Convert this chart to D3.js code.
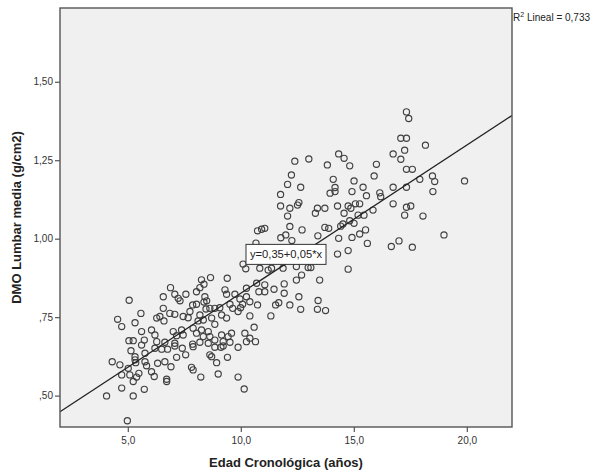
<!DOCTYPE html>
<html><head><meta charset="utf-8">
<script src="https://cdn.jsdelivr.net/npm/d3@7"></script>
<style>
html,body{margin:0;padding:0;background:#fff;}
svg{display:block;font-family:"Liberation Sans",Arial,sans-serif;}
</style></head>
<body>
<svg id="chart" width="592" height="474"></svg>
<script>
// ---- data: [edad (años), DMO lumbar media (g/cm2)] ----
const puntos = [
 [5.06,0.804],[5.58,0.762],[4.55,0.743],[4.73,0.720],[5.32,0.732],[5.61,0.704],[5.05,0.675],[5.24,0.675],
 [5.73,0.677],[5.61,0.661],[5.14,0.643],[5.76,0.635],[5.32,0.624],[5.32,0.614],[4.31,0.608],[4.65,0.598],
 [5.02,0.587],[5.35,0.605],[5.76,0.608],[5.83,0.595],[4.73,0.566],[5.09,0.566],[5.49,0.571],[5.39,0.559],
 [5.24,0.545],[4.73,0.524],[5.73,0.520],[4.06,0.499],[5.24,0.499],[4.98,0.420],
 [10.22,0.904],[9.40,0.874],[8.66,0.876],[8.26,0.869],[8.37,0.855],[8.19,0.844],[6.89,0.844],[10.25,0.842],
 [9.30,0.837],[9.37,0.823],[9.74,0.823],[8.04,0.831],[7.57,0.823],[7.08,0.823],[7.23,0.810],[7.31,0.802],
 [6.57,0.815],[8.41,0.815],[8.49,0.802],[10.25,0.815],[9.96,0.808],[6.57,0.778],[7.87,0.789],[8.04,0.791],
 [8.37,0.798],[7.75,0.768],[8.46,0.776],[8.63,0.778],[8.85,0.778],[9.07,0.780],[9.52,0.791],[9.64,0.778],
 [9.99,0.780],[10.08,0.791],[9.88,0.768],[6.86,0.762],[7.08,0.759],[7.45,0.752],[6.28,0.747],[6.42,0.752],
 [6.60,0.738],[7.67,0.748],[8.19,0.757],[8.11,0.738],[8.34,0.741],[8.71,0.747],[8.85,0.727],[9.15,0.757],
 [9.37,0.747],[6.05,0.709],[6.20,0.693],[7.01,0.704],[7.16,0.691],[7.38,0.709],[7.45,0.693],[7.89,0.715],
 [8.04,0.699],[8.26,0.709],[8.34,0.688],[8.56,0.704],[8.63,0.688],[8.85,0.677],[9.15,0.693],[9.44,0.688],
 [9.59,0.699],[9.22,0.672],[9.52,0.670],[10.18,0.699],[10.25,0.672],[6.28,0.672],[6.64,0.670],[7.08,0.667],
 [7.87,0.664],[8.19,0.670],[8.56,0.667],
 [6.20,0.651],[6.50,0.648],[6.76,0.648],[7.08,0.658],[7.41,0.651],[7.56,0.630],[7.89,0.656],[7.16,0.622],
 [6.32,0.603],[6.64,0.608],[6.91,0.592],[7.82,0.590],[7.89,0.582],[6.05,0.576],[6.17,0.561],[6.72,0.552],
 [6.72,0.545],[8.23,0.559],
 [9.22,0.658],[8.85,0.654],[9.12,0.654],[8.71,0.624],[8.63,0.630],[9.88,0.654],[9.41,0.622],[8.93,0.605],
 [9.00,0.569],[9.88,0.559],[10.15,0.521],
 [10.84,0.906],[11.21,0.900],[11.36,0.906],[11.87,0.906],[12.46,0.911],[12.98,0.908],[13.10,0.908],[12.69,0.884],
 [12.46,0.868],[13.49,0.868],[10.70,0.858],[10.80,0.831],[11.06,0.831],[11.06,0.853],[11.47,0.839],[11.92,0.856],
 [11.92,0.826],[12.57,0.815],[13.42,0.803],[13.75,0.771],[13.39,0.775],[12.65,0.775],[12.17,0.789],[11.68,0.796],
 [11.54,0.789],[11.33,0.754],[10.74,0.789],[10.40,0.799],[10.59,0.718],[10.40,0.754],[10.40,0.683],[10.65,0.672],
 [10.10,0.919],
 [12.39,1.247],[13.01,1.254],[13.83,1.235],[12.24,1.203],[12.07,1.173],[12.65,1.164],[11.76,1.141],[11.76,1.104],
 [12.17,1.097],[12.51,1.107],[12.57,1.115],[12.07,1.072],[13.39,1.097],[13.30,1.081],[13.72,1.097],[10.74,1.025],
 [10.92,1.030],[11.06,1.033],[12.17,1.039],[12.71,1.028],[13.72,1.036],[13.89,1.033],[11.77,1.003],[11.99,1.012],
 [12.26,0.994],[13.41,1.009],[10.67,0.986],
 [17.33,1.404],[17.43,1.383],[17.08,1.320],[17.33,1.320],[18.17,1.298],[17.25,1.282],[16.74,1.270],[17.08,1.253],
 [14.33,1.270],[14.57,1.256],[14.82,1.232],[16.00,1.237],[17.33,1.221],[17.59,1.221],[15.90,1.200],[17.92,1.189],
 [18.48,1.200],[18.58,1.182],[19.90,1.184],[18.50,1.150],[15.01,1.184],[14.09,1.189],[14.17,1.163],[13.95,1.145],
 [14.17,1.150],[14.92,1.150],[15.41,1.164],[15.56,1.137],[16.15,1.146],[16.19,1.134],[16.74,1.164],[17.33,1.164],
 [16.74,1.111],[17.33,1.100],[17.52,1.104],[17.25,1.075],[18.06,1.072],[14.28,1.104],[14.75,1.104],[14.87,1.097],
 [15.07,1.111],[15.26,1.111],[14.57,1.081],[15.19,1.075],[15.45,1.075],[15.85,1.091],[15.01,1.049],[14.82,1.057],
 [14.52,1.047],[14.42,1.040],[14.33,1.001],[14.92,1.004],[15.26,1.015],[15.52,1.028],[15.60,0.985],[14.75,0.962],
 [14.28,0.951],[16.66,0.975],[17.00,0.993],[17.59,0.973],[18.99,1.012],[14.75,0.903]
];

const xDomain = [2, 22];
const yDomain = [0.40, 1.735];
const xTickValues = [5, 10, 15, 20];
const xTickLabels = ["5,0", "10,0", "15,0", "20,0"];
const yTickValues = [0.50, 0.75, 1.00, 1.25, 1.50];
const yTickLabels = [",50", ",75", "1,00", "1,25", "1,50"];

// linear fit (line drawn from intercept/slope)
const intercept = 0.354;
const slope = 0.0472;
const eqLabel = "y=0,35+0,05*x";
const eqAnchor = [12.0, 0.95];
const r2Text = "0,733";

const xTitle = "Edad Cronológica (años)";
const yTitle = "DMO Lumbar media (g/cm2)";

// ---- layout ----
const svg = d3.select("#chart");
const m = {left: 60, top: 8, right: 512, bottom: 427};
const x = d3.scaleLinear().domain(xDomain).range([m.left, m.right]);
const y = d3.scaleLinear().domain(yDomain).range([m.bottom, m.top]);

svg.append("defs").append("clipPath").attr("id","clip")
  .append("rect").attr("x", m.left).attr("y", m.top)
  .attr("width", m.right - m.left).attr("height", m.bottom - m.top);

// plot background
svg.append("rect").attr("x", m.left).attr("y", m.top)
  .attr("width", m.right - m.left).attr("height", m.bottom - m.top)
  .attr("fill", "#f0f0f0");

// axes
const xAxis = d3.axisBottom(x).tickValues(xTickValues)
  .tickFormat((d, i) => xTickLabels[i]).tickSize(5).tickSizeOuter(0);
const gx = svg.append("g").attr("transform", `translate(0,${m.bottom})`).call(xAxis);
gx.select(".domain").remove();
gx.selectAll("line").attr("stroke", "#555").attr("stroke-width", 1.2);
gx.selectAll("text").attr("font-size", 10).attr("fill", "#333")
  .attr("font-family", "Liberation Sans, Arial, sans-serif").attr("dy", "0.95em").attr("y", 7);

const yAxis = d3.axisLeft(y).tickValues(yTickValues)
  .tickFormat((d, i) => yTickLabels[i]).tickSize(5).tickSizeOuter(0);
const gy = svg.append("g").attr("transform", `translate(${m.left},0)`).call(yAxis);
gy.select(".domain").remove();
gy.selectAll("line").attr("stroke", "#555").attr("stroke-width", 1.2);
gy.selectAll("text").attr("font-size", 10).attr("fill", "#333")
  .attr("font-family", "Liberation Sans, Arial, sans-serif").attr("x", -7);

// points
svg.append("g").attr("clip-path", "url(#clip)")
  .selectAll("circle").data(puntos).join("circle")
  .attr("cx", d => x(d[0])).attr("cy", d => y(d[1])).attr("r", 3.1)
  .attr("fill", "none").attr("stroke", "#404040").attr("stroke-width", 1.15);

// regression line
const lineData = xDomain.map(v => [v, intercept + slope * v]);
svg.append("path").attr("clip-path", "url(#clip)")
  .attr("d", d3.line().x(d => x(d[0])).y(d => y(d[1]))(lineData))
  .attr("stroke", "#222").attr("stroke-width", 1.3).attr("fill", "none");

// plot frame
svg.append("rect").attr("x", m.left).attr("y", m.top)
  .attr("width", m.right - m.left).attr("height", m.bottom - m.top)
  .attr("fill", "none").attr("stroke", "#555").attr("stroke-width", 1.4);

// equation label box
const ex = x(eqAnchor[0]), ey = y(eqAnchor[1]);
const eq = svg.append("g");
eq.append("rect").attr("x", ex - 40).attr("y", ey - 10).attr("width", 80).attr("height", 20)
  .attr("fill", "#fff").attr("stroke", "#333").attr("stroke-width", 1);
eq.append("text").attr("x", ex).attr("y", ey + 4).attr("text-anchor", "middle")
  .attr("font-size", 11.2).attr("fill", "#222").text(eqLabel);

// R2 label
const r2 = svg.append("text").attr("x", m.right + 1).attr("y", 21)
  .attr("font-size", 10).attr("fill", "#222");
r2.append("tspan").text("R");
r2.append("tspan").attr("font-size", 7).attr("dy", -4).text("2");
r2.append("tspan").attr("dy", 4).text(" Lineal = " + r2Text);

// axis titles
svg.append("text").attr("x", (m.left + m.right) / 2).attr("y", 467)
  .attr("text-anchor", "middle").attr("font-weight", "bold").attr("font-size", 13)
  .attr("fill", "#222").text(xTitle);
svg.append("text").attr("transform", `translate(21,${(m.top + m.bottom) / 2}) rotate(-90)`)
  .attr("text-anchor", "middle").attr("font-weight", "bold").attr("font-size", 13)
  .attr("fill", "#222").text(yTitle);
</script>
</body></html>
